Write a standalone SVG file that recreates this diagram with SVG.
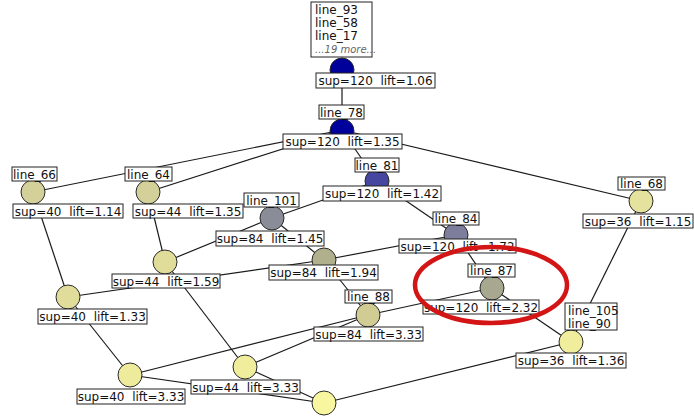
<svg xmlns="http://www.w3.org/2000/svg" width="694" height="419" viewBox="0 0 694 419">
<style>
.e{stroke:#1a1a1a;stroke-width:1.2;fill:none}
.c{stroke:#2a2a2a;stroke-width:1}
.b{fill:#fff;stroke:#222;stroke-width:1}
.t{font-family:"DejaVu Sans",sans-serif;font-size:12px;fill:#111;text-anchor:middle;white-space:pre}
.l{font-family:"DejaVu Sans",sans-serif;font-size:12px;fill:#111}
.m{font-family:"DejaVu Sans",sans-serif;font-size:10px;font-style:italic;fill:#666}
</style>
<rect width="694" height="419" fill="#fff"/>
<g id="edges">
<line class="e" x1="342" y1="70" x2="342" y2="130"/>
<line class="e" x1="342" y1="130" x2="377" y2="181"/>
<line class="e" x1="342" y1="130" x2="33" y2="192"/>
<line class="e" x1="342" y1="130" x2="148" y2="192"/>
<line class="e" x1="342" y1="130" x2="641" y2="201"/>
<line class="e" x1="377" y1="181" x2="272" y2="218"/>
<line class="e" x1="377" y1="181" x2="456" y2="235"/>
<line class="e" x1="33" y1="192" x2="68" y2="297"/>
<line class="e" x1="148" y1="192" x2="165" y2="262"/>
<line class="e" x1="272" y1="218" x2="165" y2="262"/>
<line class="e" x1="272" y1="218" x2="324" y2="260"/>
<line class="e" x1="456" y1="235" x2="324" y2="260"/>
<line class="e" x1="456" y1="235" x2="492" y2="288"/>
<line class="e" x1="641" y1="201" x2="571" y2="342"/>
<line class="e" x1="68" y1="297" x2="324" y2="260"/>
<line class="e" x1="165" y1="262" x2="245" y2="367"/>
<line class="e" x1="68" y1="297" x2="130" y2="375"/>
<line class="e" x1="130" y1="375" x2="368" y2="315"/>
<line class="e" x1="368" y1="315" x2="492" y2="288"/>
<line class="e" x1="245" y1="367" x2="368" y2="315"/>
<line class="e" x1="324" y1="260" x2="368" y2="315"/>
<line class="e" x1="492" y1="288" x2="571" y2="342"/>
<line class="e" x1="571" y1="342" x2="324" y2="403"/>
<line class="e" x1="130" y1="375" x2="324" y2="403"/>
<line class="e" x1="245" y1="367" x2="324" y2="403"/>
</g>
<g id="nA">
<circle class="c" cx="342" cy="70" r="12" fill="#00009a"/>
<rect class="b" x="311" y="2" width="61" height="55"/>
<text class="l" x="315" y="14">line_93</text>
<text class="l" x="315" y="27">line_58</text>
<text class="l" x="315" y="40">line_17</text>
<text class="m" x="315" y="53">...19 more...</text>
<rect class="b" x="316" y="73" width="119" height="15"/>
<text class="t" x="375.5" y="85">sup=120  lift=1.06</text>
</g>
<g id="nB">
<circle class="c" cx="342" cy="131" r="12" fill="#00009a"/>
<rect class="b" x="319" y="105" width="45" height="14"/>
<text class="t" x="341.5" y="116.5">line_78</text>
<rect class="b" x="283" y="134" width="119" height="15"/>
<text class="t" x="342.5" y="146">sup=120  lift=1.35</text>
</g>
<g id="nC">
<circle class="c" cx="377" cy="181" r="12" fill="#4646a0"/>
<rect class="b" x="355" y="158" width="44" height="14"/>
<text class="t" x="377" y="169.5">line_81</text>
<rect class="b" x="323" y="186" width="118" height="15"/>
<text class="t" x="382" y="198">sup=120  lift=1.42</text>
</g>
<g id="nD">
<circle class="c" cx="33" cy="192" r="12" fill="#d4d09a"/>
<rect class="b" x="12" y="167" width="45" height="14"/>
<text class="t" x="34.5" y="178.5">line_66</text>
<rect class="b" x="13" y="204" width="110" height="14"/>
<text class="t" x="68" y="215.5">sup=40  lift=1.14</text>
</g>
<g id="nE">
<circle class="c" cx="148" cy="192" r="12" fill="#d4d09a"/>
<rect class="b" x="125" y="167" width="47" height="14"/>
<text class="t" x="148.5" y="178.5">line_64</text>
<rect class="b" x="133" y="204" width="110" height="14"/>
<text class="t" x="188" y="215.5">sup=44  lift=1.35</text>
</g>
<g id="nF">
<circle class="c" cx="272" cy="218" r="12" fill="#8a8c98"/>
<rect class="b" x="244" y="193" width="55" height="14"/>
<text class="t" x="271.5" y="204.5">line_101</text>
<rect class="b" x="216" y="231" width="108" height="15"/>
<text class="t" x="270" y="243">sup=84  lift=1.45</text>
</g>
<g id="nG">
<circle class="c" cx="456" cy="235" r="12" fill="#7c7e9c"/>
<rect class="b" x="433" y="212" width="46" height="13"/>
<text class="t" x="456" y="223">line_84</text>
<rect class="b" x="399" y="239" width="117" height="14"/>
<text class="t" x="457.5" y="250.5">sup=120  lift=1.72</text>
</g>
<g id="nH">
<circle class="c" cx="641" cy="201" r="12" fill="#e4e29c"/>
<rect class="b" x="618" y="177" width="47" height="13"/>
<text class="t" x="641.5" y="188">line_68</text>
<rect class="b" x="583" y="214" width="110" height="14"/>
<text class="t" x="638" y="225.5">sup=36  lift=1.15</text>
</g>
<g id="nI">
<circle class="c" cx="165" cy="262" r="12" fill="#e0dc9a"/>
<rect class="b" x="112" y="274" width="108" height="14"/>
<text class="t" x="166" y="285.5">sup=44  lift=1.59</text>
</g>
<g id="nJ">
<circle class="c" cx="324" cy="260" r="12" fill="#b0b08c"/>
<rect class="b" x="269" y="265" width="109" height="15"/>
<text class="t" x="323.5" y="277">sup=84  lift=1.94</text>
</g>
<g id="nK">
<circle class="c" cx="492" cy="288" r="12" fill="#a8a890"/>
<rect class="b" x="468" y="264" width="47" height="13"/>
<text class="t" x="491.5" y="275">line_87</text>
<rect class="b" x="423" y="300" width="116" height="14"/>
<text class="t" x="481" y="311.5">sup=120  lift=2.32</text>
</g>
<g id="nL">
<circle class="c" cx="368" cy="315" r="12" fill="#d0cc94"/>
<rect class="b" x="345" y="290" width="47" height="13"/>
<text class="t" x="368.5" y="301">line_88</text>
<rect class="b" x="314" y="327" width="109" height="14"/>
<text class="t" x="368.5" y="338.5">sup=84  lift=3.33</text>
</g>
<g id="nM">
<circle class="c" cx="68" cy="297" r="12" fill="#e0dc9a"/>
<rect class="b" x="38" y="309" width="109" height="15"/>
<text class="t" x="92.5" y="321">sup=40  lift=1.33</text>
</g>
<g id="nN">
<circle class="c" cx="571" cy="342" r="12" fill="#f0ee9c"/>
<rect class="b" x="565" y="303" width="52" height="27"/>
<text class="l" x="568" y="315">line_105</text>
<text class="l" x="568" y="327.5">line_90</text>
<rect class="b" x="516" y="353" width="110" height="15"/>
<text class="t" x="571" y="365">sup=36  lift=1.36</text>
</g>
<g id="nO">
<circle class="c" cx="245" cy="367" r="12" fill="#f0ee9c"/>
<rect class="b" x="191" y="380" width="109" height="14"/>
<text class="t" x="245.5" y="391.5">sup=44  lift=3.33</text>
</g>
<g id="nP">
<circle class="c" cx="130" cy="375" r="12" fill="#eeec9c"/>
<rect class="b" x="77" y="389" width="108" height="15"/>
<text class="t" x="131" y="401">sup=40  lift=3.33</text>
</g>
<g id="nQ">
<circle class="c" cx="324" cy="403" r="12" fill="#f8f69e"/>
</g>
<ellipse cx="491" cy="285" rx="76" ry="38" fill="none" stroke="#d41515" stroke-width="4.5"/>
</svg>
